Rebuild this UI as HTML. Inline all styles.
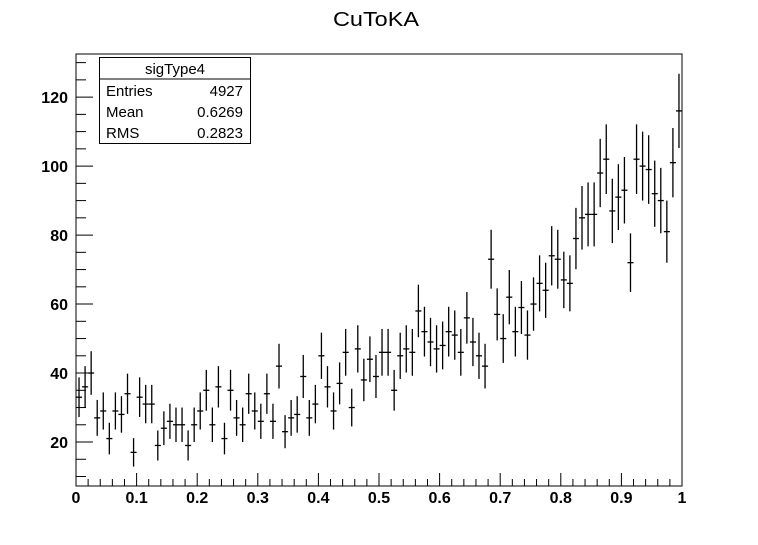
<!DOCTYPE html>
<html><head><meta charset="utf-8"><style>
body{margin:0;background:#fff;}
svg text{font-family:"Liberation Sans",sans-serif;}
</style></head><body>
<svg id="chart" width="758" height="540" xmlns="http://www.w3.org/2000/svg">
<rect width="758" height="540" fill="#fff"/>
<text x="333" y="26" font-size="20" textLength="86" lengthAdjust="spacingAndGlyphs">CuToKA</text>
<g id="axes"></g>
<g id="marks"></g>
<g>
<rect x="99.5" y="57.5" width="151" height="86" fill="#fff" stroke="#000" stroke-width="1"/>
<line x1="99.5" y1="79" x2="250.5" y2="79" stroke="#000"/>
<text x="175" y="74" font-size="15" text-anchor="middle">sigType4</text>
<text x="106" y="96" font-size="15">Entries</text>
<text x="243" y="96" font-size="15" text-anchor="end">4927</text>
<text x="106" y="117" font-size="15">Mean</text>
<text x="243" y="117" font-size="15" text-anchor="end">0.6269</text>
<text x="106" y="138" font-size="15">RMS</text>
<text x="243" y="138" font-size="15" text-anchor="end">0.2823</text>
</g>
</svg>
<script>
const counts = [33,36,40,27,29,21,29,28,34,17,33,31,31,19,24,26,25,25,19,25,29,35,25,36,21,35,27,25,34,29,26,34,26,42,23,27,28,39,27,31,45,36,29,37,46,30,47,38,44,39,46,46,35,45,47,46,58,52,49,47,48,52,51,46,56,49,45,42,73,57,50,62,52,59,51,60,66,64,74,73,67,66,79,85,86,86,98,102,87,91,93,72,102,100,99,92,90,81,101,116];
const xTicks = [0,0.1,0.2,0.3,0.4,0.5,0.6,0.7,0.8,0.9,1];
const xTickLabels = ["0","0.1","0.2","0.3","0.4","0.5","0.6","0.7","0.8","0.9","1"];
const yTicks = [20,40,60,80,100,120];
const xMin = 0, xMax = 1, yMin = 7.25, yMax = 132.5;
const L = 76, R = 682, T = 54, B = 486;
const NS = "http://www.w3.org/2000/svg";
function sx(v){return L + (v - xMin) / (xMax - xMin) * (R - L);}
function sy(v){return B - (v - yMin) / (yMax - yMin) * (B - T);}
function mk(tag, attrs, parent){const e=document.createElementNS(NS,tag);for(const k in attrs)e.setAttribute(k,attrs[k]);parent.appendChild(e);return e;}
const axes = document.getElementById('axes');
const marks = document.getElementById('marks');
const frame = mk('rect',{x:L,y:T,width:R-L,height:B-T,fill:'none',stroke:'#000','stroke-width':1},axes);


for(let i=0;i<=50;i++){
  const v=i*0.02, x=sx(v), major=(i%5===0);
  const t=mk('line',{x1:x,y1:B,x2:x,y2:B-(major?13:7),stroke:'#000'},axes);
  
  
}
xTicks.forEach((v,i)=>{
  const t=mk('text',{x:sx(v),y:503,'font-size':16,'font-weight':'bold','text-anchor':'middle'},axes);
  t.textContent=xTickLabels[i];
  
  
});
for(let v=10;v<=130;v+=5){
  const y=sy(v), major=(v%20===0);
  const t=mk('line',{x1:L,y1:y,x2:L+(major?17:10),y2:y,stroke:'#000'},axes);
  
  
}
yTicks.forEach(v=>{
  const t=mk('text',{x:68,y:sy(v)+6,'font-size':16,'font-weight':'bold','text-anchor':'end'},axes);
  t.textContent=String(v);
  
  
});
const nb = counts.length, bw = (xMax-xMin)/nb;
counts.forEach((c,i)=>{
  const x0=sx(i*bw), x1=sx((i+1)*bw), xc=(x0+x1)/2, e=Math.sqrt(c);
  const g=mk('g',{stroke:'#000','stroke-width':1.3},marks);
  
  
  mk('line',{x1:x0,y1:sy(c),x2:x1,y2:sy(c)},g);
  mk('line',{x1:xc,y1:Math.max(T,sy(c+e)),x2:xc,y2:Math.min(B,sy(c-e))},g);
});
</script>
</body></html>
